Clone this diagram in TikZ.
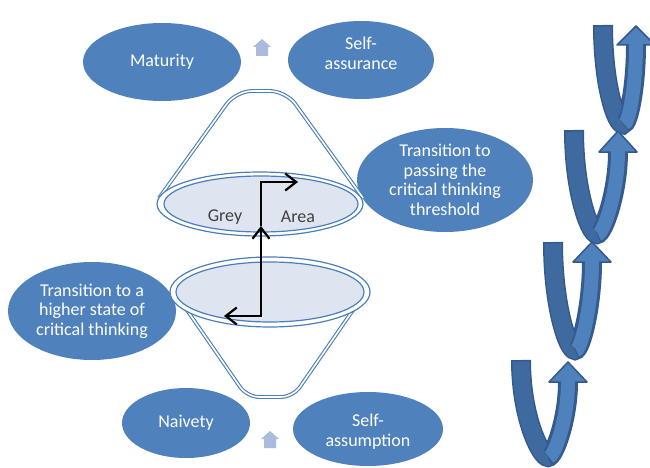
\documentclass[tikz,border=0pt]{standalone}
\usepackage{fontspec}
\setmainfont{Carlito}
\usetikzlibrary{shapes.geometric,arrows.meta}

\definecolor{bubble}{HTML}{4F81BD}
\definecolor{conecol}{HTML}{4A7EBB}
\definecolor{greyfill}{HTML}{DFE5F0}
\definecolor{hintarrow}{HTML}{A9BCDB}
\definecolor{armdark}{HTML}{3E6AA0}
\definecolor{armlight}{HTML}{4F81BD}
\definecolor{armedge}{HTML}{345A8C}
\definecolor{greytext}{HTML}{404040}

\tikzset{
  bubble/.style={ellipse, fill=bubble, inner sep=0pt, text=white, align=center,
    font=\fontsize{18}{19.5}\selectfont},
  bubbletext/.style={inner sep=0pt, text=white, align=center,
    font=\fontsize{18}{20}\selectfont},
  conepart/.style={draw=conecol, double=white, double distance=1.6pt, line width=1.1pt},
  rimline/.style={draw=conecol, line width=1.2pt},
  greydisc/.style={draw=conecol, line width=1.2pt, fill=greyfill},
  flow/.style={line width=2.2pt, black,
    -{Straight Barb[length=11pt,width=17pt,line width=2.2pt]}},
  arealabel/.style={text=greytext, font=\fontsize{18}{20}\selectfont},
  hint/.style={fill=hintarrow}
}

% Curved up-turning arrow: #1 left arm centre x, #2 top y, #3 turn x, #4 turn y,
% #5 head x, #6 head base y, #7 tip y
\newcommand\turnarrow[7]{%
  \draw[armedge, line width=20pt]
    (#1,#2) .. controls (#1,{#2+0.6*(#4-#2)}) and ({#3-7},#4) .. (#3,#4)
    .. controls ({#3+6},#4) and (#5,{#6+0.5*(#4-#6)}) .. (#5,#6);
  \draw[armdark, line width=17pt]
    (#1,{#2+1.5}) .. controls (#1,{#2+0.6*(#4-#2)}) and ({#3-7},#4) .. (#3,#4)
    .. controls ({#3+6},#4) and (#5,{#6+0.5*(#4-#6)}) .. (#5,#6);
  \draw[armedge, line width=17pt]
    (#3,#4) .. controls ({#3+6},#4) and (#5,{#6+0.5*(#4-#6)}) .. (#5,#6);
  \filldraw[fill=armlight, draw=armedge, line width=1.5pt, line join=round]
    ({#5-7},#6) -- ({#5-19},#6) -- (#5,#7) -- ({#5+19},#6) -- ({#5+7},#6);
  \draw[armlight, line width=14pt]
    ({#3+1},#4) .. controls ({#3+6},#4) and (#5,{#6+0.5*(#4-#6)}) .. (#5,#6);
}

\begin{document}
\begin{tikzpicture}[x=1pt, y=-1pt]
\useasboundingbox (0,0) rectangle (650,468);

% outer bubbles
\node[bubble, minimum width=158pt, minimum height=78pt] (maturity) at (162,62) {Maturity};
\node[bubble, minimum width=146pt, minimum height=78pt] (assurance) at (361,60) {};
\node[bubbletext] (assurancetext) at (361,53) {Self-\\assurance};
\node[bubble, minimum width=176pt, minimum height=104pt] (passing) at (445,180)
  {Transition to\\passing the\\critical thinking\\threshold};
\node[bubble, minimum width=168pt, minimum height=98pt] (higher) at (92,311)
  {Transition to a\\higher state of\\critical thinking};
\node[bubble, minimum width=128pt, minimum height=70pt] (naivety) at (186,423) {Naivety};
\node[bubble, minimum width=150pt, minimum height=74pt] (assumption) at (368,429) {};
\node[bubbletext] (assumptiontext) at (368,432) {Self-\\assumption};

% small upward hints
\fill[hint] (256,56) -- (256,47) -- (253,47) -- (262,39) -- (271,47) -- (268,47) -- (268,56) -- cycle;
\fill[hint] (264,448) -- (264,439) -- (261,439) -- (270,431) -- (279,439) -- (276,439) -- (276,448) -- cycle;

% upper cone
\draw[conepart, rounded corners=16pt] (159,198) -- (236,91) -- (286,91) -- (363,198);
\fill[white] (260,204) ellipse [x radius=103, y radius=32];
\draw[rimline] (260,204) ellipse [x radius=103, y radius=32];
\draw[greydisc] (261,204) ellipse [x radius=97, y radius=28];

% lower funnel
\draw[conepart, rounded corners=12pt] (180,300) -- (247,397) -- (293,397) -- (360,300);
\fill[white] (270,292) ellipse [x radius=100, y radius=35];
\draw[rimline] (270,292) ellipse [x radius=100, y radius=35];
\draw[greydisc] (270,292) ellipse [x radius=94, y radius=30];

% grey-area labels
\node[arealabel] (grey) at (225,217) {Grey};
\node[arealabel] (area) at (298,217) {Area};

% path through the grey area
\coordinate (low) at (261,316);
\coordinate (lowend) at (224,316);
\coordinate (mid) at (261,226);
\coordinate (top) at (261,182);
\coordinate (topend) at (298,182);
\draw[flow] (261,250) -- (low) -- (lowend);
\draw[flow] (low) -- (mid);
\draw[flow] (mid) -- (top) -- (topend);

% staircase of turning arrows
\turnarrow{603}{25}{623}{124}{636}{45}{26}
\turnarrow{574}{130}{597}{234}{618}{152}{131}
\turnarrow{553}{242}{575}{350}{592}{262}{242}
\turnarrow{521}{360}{548}{457}{568}{382}{362}
\end{tikzpicture}
\end{document}
